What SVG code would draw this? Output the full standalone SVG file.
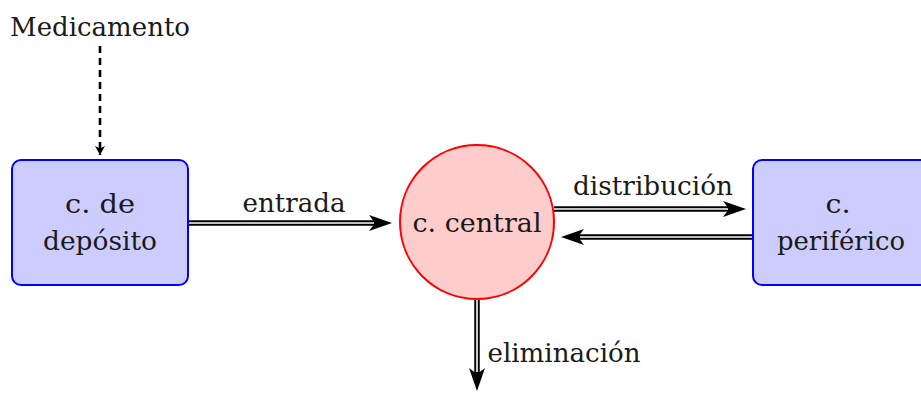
<svg xmlns="http://www.w3.org/2000/svg" width="921" height="393" viewBox="0 0 921 393">
  <style>
    text { font-family: "DejaVu Serif", "Liberation Serif", serif; font-size: 26px; fill: #1a1a1a; text-anchor: middle; }
    .box { fill: #ccccff; stroke: #0000ff; stroke-width: 2; }
    .circ { fill: #ffcccc; stroke: #ff0000; stroke-width: 2; }
    .outer { stroke: #000; stroke-width: 5.5; fill: none; }
    .inner { stroke: #fff; stroke-width: 1.6; fill: none; }
    .head { fill: #000; }
  </style>
  <defs>
    <marker id="tip" markerWidth="10" markerHeight="10" refX="9" refY="5" orient="auto" markerUnits="userSpaceOnUse">
      <path d="M0,0 L9,5 L0,10 L2.5,5 Z" fill="#000"/>
    </marker>
  </defs>

  <g id="medicamento">
    <text x="100" y="36" textLength="180" lengthAdjust="spacingAndGlyphs">Medicamento</text>
  </g>

  <g id="deposito">
    <rect class="box" x="12" y="160" width="176" height="125" rx="9"/>
    <text x="100" y="213" textLength="70" lengthAdjust="spacingAndGlyphs">c.  de</text>
    <text x="100" y="250" textLength="114" lengthAdjust="spacingAndGlyphs">depósito</text>
  </g>

  <g id="central">
    <circle class="circ" cx="477" cy="222" r="77"/>
    <text x="477" y="232" textLength="129" lengthAdjust="spacingAndGlyphs">c.  central</text>
  </g>

  <g id="periferico">
    <rect class="box" x="753" y="160" width="180" height="125" rx="9"/>
    <text x="838" y="213" textLength="25" lengthAdjust="spacingAndGlyphs">c.</text>
    <text x="841" y="250" textLength="128" lengthAdjust="spacingAndGlyphs">periférico</text>
  </g>

  <g id="connectors">
    <!-- dosing: dashed -->
    <line x1="100" y1="46" x2="100" y2="155" stroke="#000" stroke-width="2.6" stroke-dasharray="7,5" marker-end="url(#tip)"/>

    <!-- entrada -->
    <line class="outer" x1="189" y1="223" x2="376" y2="223"/>
    <line class="inner" x1="189" y1="223" x2="374" y2="223"/>
    <path class="head" d="M392,223 L369,215 L375,223 L369,231 Z"/>
    <text x="294" y="212" textLength="103" lengthAdjust="spacingAndGlyphs">entrada</text>

    <!-- distribución -->
    <line class="outer" x1="554" y1="209" x2="730" y2="209"/>
    <line class="inner" x1="554" y1="209" x2="728" y2="209"/>
    <path class="head" d="M746,209 L723,201 L729,209 L723,217 Z"/>
    <text x="653" y="195" textLength="160" lengthAdjust="spacingAndGlyphs">distribución</text>

    <!-- retorno -->
    <line class="outer" x1="752" y1="237" x2="578" y2="237"/>
    <line class="inner" x1="752" y1="237" x2="580" y2="237"/>
    <path class="head" d="M561,237 L584,229 L578,237 L584,245 Z"/>

    <!-- eliminación -->
    <line class="outer" x1="477" y1="300" x2="477" y2="374"/>
    <line class="inner" x1="477" y1="300" x2="477" y2="372"/>
    <path class="head" d="M477,391 L469,368 L477,374 L485,368 Z"/>
    <text x="564" y="362" textLength="153" lengthAdjust="spacingAndGlyphs">eliminación</text>
  </g>
</svg>
